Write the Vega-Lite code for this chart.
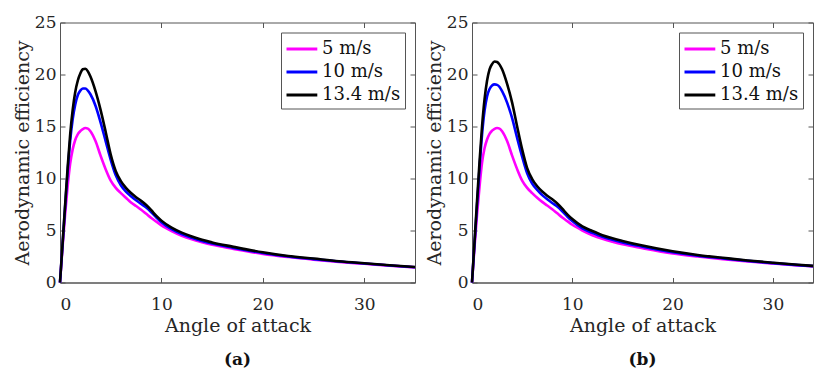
{
  "$schema": "https://vega.github.io/schema/vega-lite/v6.json",
  "padding": {"top": 12.5, "left": 12, "right": 0, "bottom": 0},
  "spacing": 3,
  "background": "white",
  "config": {
    "view": {"stroke": "#555", "strokeWidth": 1},
    "style": {
      "guide-label": {"font": "DejaVu Serif"},
      "guide-title": {"font": "DejaVu Serif"}
    },
    "axis": {
      "grid": false,
      "labelFontSize": 17,
      "labelColor": "#262626",
      "titleFontSize": 19,
      "titleFontWeight": "normal",
      "titleColor": "#262626",
      "domainColor": "#555",
      "tickColor": "#555",
      "tickSize": -5,
      "labelPadding": 9,
      "minExtent": 0
    },
    "legend": {
      "orient": "top-right",
      "offset": 10,
      "padding": 4,
      "strokeColor": "#555",
      "fillColor": "white",
      "labelFont": "DejaVu Serif",
      "labelFontSize": 18,
      "labelColor": "#111",
      "symbolType": "M-1,0H1.8",
      "symbolStrokeWidth": 3,
      "symbolSize": 484,
      "rowPadding": 1,
      "labelOffset": 12,
      "title": null
    }
  },
  "datasets": {
    "curves": [
      {"panel":"a","speed":"5 m/s","aoa":0,"eff":0},{"panel":"a","speed":"5 m/s","aoa":0.25,"eff":3.4},{"panel":"a","speed":"5 m/s","aoa":0.5,"eff":6.5},{"panel":"a","speed":"5 m/s","aoa":0.75,"eff":9.2},{"panel":"a","speed":"5 m/s","aoa":1,"eff":11.4},{"panel":"a","speed":"5 m/s","aoa":1.25,"eff":12.8},{"panel":"a","speed":"5 m/s","aoa":1.5,"eff":13.7},{"panel":"a","speed":"5 m/s","aoa":1.75,"eff":14.25},{"panel":"a","speed":"5 m/s","aoa":2,"eff":14.55},{"panel":"a","speed":"5 m/s","aoa":2.25,"eff":14.75},{"panel":"a","speed":"5 m/s","aoa":2.5,"eff":14.85},{"panel":"a","speed":"5 m/s","aoa":2.75,"eff":14.8},{"panel":"a","speed":"5 m/s","aoa":3,"eff":14.55},{"panel":"a","speed":"5 m/s","aoa":3.5,"eff":13.6},{"panel":"a","speed":"5 m/s","aoa":4,"eff":12.2},{"panel":"a","speed":"5 m/s","aoa":4.5,"eff":10.9},{"panel":"a","speed":"5 m/s","aoa":5,"eff":9.8},{"panel":"a","speed":"5 m/s","aoa":5.5,"eff":9.1},{"panel":"a","speed":"5 m/s","aoa":6,"eff":8.6},{"panel":"a","speed":"5 m/s","aoa":6.5,"eff":8.15},{"panel":"a","speed":"5 m/s","aoa":7,"eff":7.7},{"panel":"a","speed":"5 m/s","aoa":7.5,"eff":7.35},{"panel":"a","speed":"5 m/s","aoa":8,"eff":7.0},{"panel":"a","speed":"5 m/s","aoa":8.5,"eff":6.6},{"panel":"a","speed":"5 m/s","aoa":9,"eff":6.2},{"panel":"a","speed":"5 m/s","aoa":9.5,"eff":5.85},{"panel":"a","speed":"5 m/s","aoa":10,"eff":5.5},{"panel":"a","speed":"5 m/s","aoa":11,"eff":4.95},{"panel":"a","speed":"5 m/s","aoa":12,"eff":4.5},{"panel":"a","speed":"5 m/s","aoa":13,"eff":4.15},{"panel":"a","speed":"5 m/s","aoa":14,"eff":3.87},{"panel":"a","speed":"5 m/s","aoa":15,"eff":3.62},{"panel":"a","speed":"5 m/s","aoa":17,"eff":3.25},{"panel":"a","speed":"5 m/s","aoa":20,"eff":2.75},{"panel":"a","speed":"5 m/s","aoa":22.5,"eff":2.45},{"panel":"a","speed":"5 m/s","aoa":25,"eff":2.2},{"panel":"a","speed":"5 m/s","aoa":27.5,"eff":1.98},{"panel":"a","speed":"5 m/s","aoa":30,"eff":1.8},{"panel":"a","speed":"5 m/s","aoa":32.5,"eff":1.62},{"panel":"a","speed":"5 m/s","aoa":35,"eff":1.45},
      {"panel":"a","speed":"10 m/s","aoa":0,"eff":0},{"panel":"a","speed":"10 m/s","aoa":0.25,"eff":3.6},{"panel":"a","speed":"10 m/s","aoa":0.5,"eff":7.2},{"panel":"a","speed":"10 m/s","aoa":0.75,"eff":10.6},{"panel":"a","speed":"10 m/s","aoa":1,"eff":13.6},{"panel":"a","speed":"10 m/s","aoa":1.25,"eff":15.7},{"panel":"a","speed":"10 m/s","aoa":1.5,"eff":17.1},{"panel":"a","speed":"10 m/s","aoa":1.75,"eff":18.0},{"panel":"a","speed":"10 m/s","aoa":2,"eff":18.45},{"panel":"a","speed":"10 m/s","aoa":2.25,"eff":18.65},{"panel":"a","speed":"10 m/s","aoa":2.5,"eff":18.65},{"panel":"a","speed":"10 m/s","aoa":2.75,"eff":18.45},{"panel":"a","speed":"10 m/s","aoa":3,"eff":18.1},{"panel":"a","speed":"10 m/s","aoa":3.5,"eff":17.0},{"panel":"a","speed":"10 m/s","aoa":4,"eff":15.4},{"panel":"a","speed":"10 m/s","aoa":4.5,"eff":13.6},{"panel":"a","speed":"10 m/s","aoa":5,"eff":11.8},{"panel":"a","speed":"10 m/s","aoa":5.5,"eff":10.3},{"panel":"a","speed":"10 m/s","aoa":6,"eff":9.35},{"panel":"a","speed":"10 m/s","aoa":6.5,"eff":8.75},{"panel":"a","speed":"10 m/s","aoa":7,"eff":8.3},{"panel":"a","speed":"10 m/s","aoa":7.5,"eff":7.9},{"panel":"a","speed":"10 m/s","aoa":8,"eff":7.55},{"panel":"a","speed":"10 m/s","aoa":8.5,"eff":7.2},{"panel":"a","speed":"10 m/s","aoa":9,"eff":6.75},{"panel":"a","speed":"10 m/s","aoa":9.5,"eff":6.25},{"panel":"a","speed":"10 m/s","aoa":10,"eff":5.8},{"panel":"a","speed":"10 m/s","aoa":11,"eff":5.12},{"panel":"a","speed":"10 m/s","aoa":12,"eff":4.65},{"panel":"a","speed":"10 m/s","aoa":13,"eff":4.3},{"panel":"a","speed":"10 m/s","aoa":14,"eff":4.0},{"panel":"a","speed":"10 m/s","aoa":15,"eff":3.75},{"panel":"a","speed":"10 m/s","aoa":17,"eff":3.35},{"panel":"a","speed":"10 m/s","aoa":20,"eff":2.84},{"panel":"a","speed":"10 m/s","aoa":22.5,"eff":2.5},{"panel":"a","speed":"10 m/s","aoa":25,"eff":2.25},{"panel":"a","speed":"10 m/s","aoa":27.5,"eff":2.02},{"panel":"a","speed":"10 m/s","aoa":30,"eff":1.82},{"panel":"a","speed":"10 m/s","aoa":32.5,"eff":1.64},{"panel":"a","speed":"10 m/s","aoa":35,"eff":1.47},
      {"panel":"a","speed":"13.4 m/s","aoa":0,"eff":0},{"panel":"a","speed":"13.4 m/s","aoa":0.25,"eff":3.7},{"panel":"a","speed":"13.4 m/s","aoa":0.5,"eff":7.4},{"panel":"a","speed":"13.4 m/s","aoa":0.75,"eff":11.0},{"panel":"a","speed":"13.4 m/s","aoa":1,"eff":14.2},{"panel":"a","speed":"13.4 m/s","aoa":1.25,"eff":16.6},{"panel":"a","speed":"13.4 m/s","aoa":1.5,"eff":18.3},{"panel":"a","speed":"13.4 m/s","aoa":1.75,"eff":19.4},{"panel":"a","speed":"13.4 m/s","aoa":2,"eff":20.1},{"panel":"a","speed":"13.4 m/s","aoa":2.25,"eff":20.5},{"panel":"a","speed":"13.4 m/s","aoa":2.5,"eff":20.55},{"panel":"a","speed":"13.4 m/s","aoa":2.75,"eff":20.3},{"panel":"a","speed":"13.4 m/s","aoa":3,"eff":19.8},{"panel":"a","speed":"13.4 m/s","aoa":3.5,"eff":18.4},{"panel":"a","speed":"13.4 m/s","aoa":4,"eff":16.6},{"panel":"a","speed":"13.4 m/s","aoa":4.5,"eff":14.5},{"panel":"a","speed":"13.4 m/s","aoa":5,"eff":12.3},{"panel":"a","speed":"13.4 m/s","aoa":5.5,"eff":10.7},{"panel":"a","speed":"13.4 m/s","aoa":6,"eff":9.75},{"panel":"a","speed":"13.4 m/s","aoa":6.5,"eff":9.1},{"panel":"a","speed":"13.4 m/s","aoa":7,"eff":8.6},{"panel":"a","speed":"13.4 m/s","aoa":7.5,"eff":8.2},{"panel":"a","speed":"13.4 m/s","aoa":8,"eff":7.85},{"panel":"a","speed":"13.4 m/s","aoa":8.5,"eff":7.45},{"panel":"a","speed":"13.4 m/s","aoa":9,"eff":6.95},{"panel":"a","speed":"13.4 m/s","aoa":9.5,"eff":6.4},{"panel":"a","speed":"13.4 m/s","aoa":10,"eff":5.95},{"panel":"a","speed":"13.4 m/s","aoa":11,"eff":5.28},{"panel":"a","speed":"13.4 m/s","aoa":12,"eff":4.8},{"panel":"a","speed":"13.4 m/s","aoa":13,"eff":4.42},{"panel":"a","speed":"13.4 m/s","aoa":14,"eff":4.1},{"panel":"a","speed":"13.4 m/s","aoa":15,"eff":3.85},{"panel":"a","speed":"13.4 m/s","aoa":17,"eff":3.45},{"panel":"a","speed":"13.4 m/s","aoa":20,"eff":2.9},{"panel":"a","speed":"13.4 m/s","aoa":22.5,"eff":2.55},{"panel":"a","speed":"13.4 m/s","aoa":25,"eff":2.3},{"panel":"a","speed":"13.4 m/s","aoa":27.5,"eff":2.05},{"panel":"a","speed":"13.4 m/s","aoa":30,"eff":1.85},{"panel":"a","speed":"13.4 m/s","aoa":32.5,"eff":1.66},{"panel":"a","speed":"13.4 m/s","aoa":35,"eff":1.49},
      {"panel":"b","speed":"5 m/s","aoa":0,"eff":0},{"panel":"b","speed":"5 m/s","aoa":0.25,"eff":3.4},{"panel":"b","speed":"5 m/s","aoa":0.5,"eff":6.5},{"panel":"b","speed":"5 m/s","aoa":0.75,"eff":9.2},{"panel":"b","speed":"5 m/s","aoa":1,"eff":11.5},{"panel":"b","speed":"5 m/s","aoa":1.25,"eff":12.9},{"panel":"b","speed":"5 m/s","aoa":1.5,"eff":13.75},{"panel":"b","speed":"5 m/s","aoa":1.75,"eff":14.3},{"panel":"b","speed":"5 m/s","aoa":2,"eff":14.6},{"panel":"b","speed":"5 m/s","aoa":2.25,"eff":14.78},{"panel":"b","speed":"5 m/s","aoa":2.5,"eff":14.85},{"panel":"b","speed":"5 m/s","aoa":2.75,"eff":14.8},{"panel":"b","speed":"5 m/s","aoa":3,"eff":14.55},{"panel":"b","speed":"5 m/s","aoa":3.5,"eff":13.6},{"panel":"b","speed":"5 m/s","aoa":4,"eff":12.2},{"panel":"b","speed":"5 m/s","aoa":4.5,"eff":10.9},{"panel":"b","speed":"5 m/s","aoa":5,"eff":9.8},{"panel":"b","speed":"5 m/s","aoa":5.5,"eff":9.1},{"panel":"b","speed":"5 m/s","aoa":6,"eff":8.6},{"panel":"b","speed":"5 m/s","aoa":6.5,"eff":8.15},{"panel":"b","speed":"5 m/s","aoa":7,"eff":7.75},{"panel":"b","speed":"5 m/s","aoa":7.5,"eff":7.4},{"panel":"b","speed":"5 m/s","aoa":8,"eff":7.05},{"panel":"b","speed":"5 m/s","aoa":8.5,"eff":6.65},{"panel":"b","speed":"5 m/s","aoa":9,"eff":6.25},{"panel":"b","speed":"5 m/s","aoa":9.5,"eff":5.9},{"panel":"b","speed":"5 m/s","aoa":10,"eff":5.55},{"panel":"b","speed":"5 m/s","aoa":11,"eff":5.0},{"panel":"b","speed":"5 m/s","aoa":12,"eff":4.55},{"panel":"b","speed":"5 m/s","aoa":13,"eff":4.2},{"panel":"b","speed":"5 m/s","aoa":14,"eff":3.92},{"panel":"b","speed":"5 m/s","aoa":15,"eff":3.67},{"panel":"b","speed":"5 m/s","aoa":17,"eff":3.3},{"panel":"b","speed":"5 m/s","aoa":20,"eff":2.8},{"panel":"b","speed":"5 m/s","aoa":22.5,"eff":2.5},{"panel":"b","speed":"5 m/s","aoa":25,"eff":2.24},{"panel":"b","speed":"5 m/s","aoa":27.5,"eff":2.02},{"panel":"b","speed":"5 m/s","aoa":30,"eff":1.83},{"panel":"b","speed":"5 m/s","aoa":32.5,"eff":1.65},{"panel":"b","speed":"5 m/s","aoa":34,"eff":1.55},
      {"panel":"b","speed":"10 m/s","aoa":0,"eff":0},{"panel":"b","speed":"10 m/s","aoa":0.25,"eff":3.7},{"panel":"b","speed":"10 m/s","aoa":0.5,"eff":7.4},{"panel":"b","speed":"10 m/s","aoa":0.75,"eff":11.0},{"panel":"b","speed":"10 m/s","aoa":1,"eff":14.2},{"panel":"b","speed":"10 m/s","aoa":1.25,"eff":16.5},{"panel":"b","speed":"10 m/s","aoa":1.5,"eff":17.9},{"panel":"b","speed":"10 m/s","aoa":1.75,"eff":18.6},{"panel":"b","speed":"10 m/s","aoa":2,"eff":18.95},{"panel":"b","speed":"10 m/s","aoa":2.25,"eff":19.05},{"panel":"b","speed":"10 m/s","aoa":2.5,"eff":19.0},{"panel":"b","speed":"10 m/s","aoa":2.75,"eff":18.8},{"panel":"b","speed":"10 m/s","aoa":3,"eff":18.4},{"panel":"b","speed":"10 m/s","aoa":3.5,"eff":17.3},{"panel":"b","speed":"10 m/s","aoa":4,"eff":15.8},{"panel":"b","speed":"10 m/s","aoa":4.5,"eff":13.9},{"panel":"b","speed":"10 m/s","aoa":5,"eff":12.1},{"panel":"b","speed":"10 m/s","aoa":5.5,"eff":10.5},{"panel":"b","speed":"10 m/s","aoa":6,"eff":9.5},{"panel":"b","speed":"10 m/s","aoa":6.5,"eff":8.9},{"panel":"b","speed":"10 m/s","aoa":7,"eff":8.4},{"panel":"b","speed":"10 m/s","aoa":7.5,"eff":8.0},{"panel":"b","speed":"10 m/s","aoa":8,"eff":7.65},{"panel":"b","speed":"10 m/s","aoa":8.5,"eff":7.3},{"panel":"b","speed":"10 m/s","aoa":9,"eff":6.85},{"panel":"b","speed":"10 m/s","aoa":9.5,"eff":6.35},{"panel":"b","speed":"10 m/s","aoa":10,"eff":5.9},{"panel":"b","speed":"10 m/s","aoa":11,"eff":5.2},{"panel":"b","speed":"10 m/s","aoa":12,"eff":4.78},{"panel":"b","speed":"10 m/s","aoa":13,"eff":4.4},{"panel":"b","speed":"10 m/s","aoa":14,"eff":4.1},{"panel":"b","speed":"10 m/s","aoa":15,"eff":3.85},{"panel":"b","speed":"10 m/s","aoa":17,"eff":3.45},{"panel":"b","speed":"10 m/s","aoa":20,"eff":2.92},{"panel":"b","speed":"10 m/s","aoa":22.5,"eff":2.58},{"panel":"b","speed":"10 m/s","aoa":25,"eff":2.32},{"panel":"b","speed":"10 m/s","aoa":27.5,"eff":2.08},{"panel":"b","speed":"10 m/s","aoa":30,"eff":1.86},{"panel":"b","speed":"10 m/s","aoa":32.5,"eff":1.67},{"panel":"b","speed":"10 m/s","aoa":34,"eff":1.57},
      {"panel":"b","speed":"13.4 m/s","aoa":0,"eff":0},{"panel":"b","speed":"13.4 m/s","aoa":0.25,"eff":3.9},{"panel":"b","speed":"13.4 m/s","aoa":0.5,"eff":7.8},{"panel":"b","speed":"13.4 m/s","aoa":0.75,"eff":11.6},{"panel":"b","speed":"13.4 m/s","aoa":1,"eff":15.0},{"panel":"b","speed":"13.4 m/s","aoa":1.25,"eff":17.6},{"panel":"b","speed":"13.4 m/s","aoa":1.5,"eff":19.4},{"panel":"b","speed":"13.4 m/s","aoa":1.75,"eff":20.5},{"panel":"b","speed":"13.4 m/s","aoa":2,"eff":21.0},{"panel":"b","speed":"13.4 m/s","aoa":2.25,"eff":21.25},{"panel":"b","speed":"13.4 m/s","aoa":2.5,"eff":21.2},{"panel":"b","speed":"13.4 m/s","aoa":2.75,"eff":20.95},{"panel":"b","speed":"13.4 m/s","aoa":3,"eff":20.5},{"panel":"b","speed":"13.4 m/s","aoa":3.5,"eff":19.1},{"panel":"b","speed":"13.4 m/s","aoa":4,"eff":17.3},{"panel":"b","speed":"13.4 m/s","aoa":4.5,"eff":15.0},{"panel":"b","speed":"13.4 m/s","aoa":5,"eff":12.8},{"panel":"b","speed":"13.4 m/s","aoa":5.5,"eff":11.0},{"panel":"b","speed":"13.4 m/s","aoa":6,"eff":9.95},{"panel":"b","speed":"13.4 m/s","aoa":6.5,"eff":9.25},{"panel":"b","speed":"13.4 m/s","aoa":7,"eff":8.75},{"panel":"b","speed":"13.4 m/s","aoa":7.5,"eff":8.35},{"panel":"b","speed":"13.4 m/s","aoa":8,"eff":8.0},{"panel":"b","speed":"13.4 m/s","aoa":8.5,"eff":7.6},{"panel":"b","speed":"13.4 m/s","aoa":9,"eff":7.1},{"panel":"b","speed":"13.4 m/s","aoa":9.5,"eff":6.55},{"panel":"b","speed":"13.4 m/s","aoa":10,"eff":6.1},{"panel":"b","speed":"13.4 m/s","aoa":11,"eff":5.4},{"panel":"b","speed":"13.4 m/s","aoa":12,"eff":4.95},{"panel":"b","speed":"13.4 m/s","aoa":13,"eff":4.55},{"panel":"b","speed":"13.4 m/s","aoa":14,"eff":4.25},{"panel":"b","speed":"13.4 m/s","aoa":15,"eff":4.0},{"panel":"b","speed":"13.4 m/s","aoa":17,"eff":3.55},{"panel":"b","speed":"13.4 m/s","aoa":20,"eff":3.0},{"panel":"b","speed":"13.4 m/s","aoa":22.5,"eff":2.65},{"panel":"b","speed":"13.4 m/s","aoa":25,"eff":2.38},{"panel":"b","speed":"13.4 m/s","aoa":27.5,"eff":2.12},{"panel":"b","speed":"13.4 m/s","aoa":30,"eff":1.9},{"panel":"b","speed":"13.4 m/s","aoa":32.5,"eff":1.7},{"panel":"b","speed":"13.4 m/s","aoa":34,"eff":1.6}
    ]
  },
  "resolve": {"scale": {"color": "independent"}},
  "hconcat": [
    {
      "width": 355,
      "height": 260,
      "title": {"text": "(a)", "orient": "bottom", "font": "DejaVu Serif", "fontSize": 17, "fontWeight": "bold", "color": "#111", "offset": 16},
      "data": {"name": "curves"},
      "transform": [{"filter": "datum.panel === 'a'"}],
      "resolve": {"axis": {"x": "independent", "y": "independent"}},
      "layer": [
        {
          "mark": {"type": "line", "strokeWidth": 2.6, "interpolate": "monotone"},
          "encoding": {
            "x": {"field": "aoa", "type": "quantitative", "scale": {"domain": [0, 35], "nice": false}, "axis": {"values": [0, 10, 20, 30], "title": "Angle of attack", "titlePadding": 4, "labelPadding": 19}},
            "y": {"field": "eff", "type": "quantitative", "scale": {"domain": [0, 25], "nice": false}, "axis": {"values": [0, 5, 10, 15, 20, 25], "title": "Aerodynamic efficiency", "titlePadding": 2}},
            "color": {"field": "speed", "type": "nominal", "sort": ["5 m/s", "10 m/s", "13.4 m/s"], "scale": {"domain": ["5 m/s", "10 m/s", "13.4 m/s"], "range": ["#ff00ff", "#0000ff", "#000000"]}, "legend": {"labelFont": "DejaVu Serif"}}
          }
        },
        {
          "mark": {"type": "line", "opacity": 0},
          "encoding": {
            "x": {"field": "aoa", "type": "quantitative", "axis": {"orient": "top", "values": [0, 10, 20, 30], "labels": false, "title": null, "domain": false}},
            "y": {"field": "eff", "type": "quantitative", "axis": {"orient": "right", "values": [0, 5, 10, 15, 20, 25], "labels": false, "title": null, "domain": false}},
            "detail": {"field": "speed"}
          }
        }
      ]
    },
    {
      "width": 341,
      "height": 260,
      "title": {"text": "(b)", "orient": "bottom", "font": "DejaVu Serif", "fontSize": 17, "fontWeight": "bold", "color": "#111", "offset": 16},
      "data": {"name": "curves"},
      "transform": [{"filter": "datum.panel === 'b'"}],
      "resolve": {"axis": {"x": "independent", "y": "independent"}},
      "layer": [
        {
          "mark": {"type": "line", "strokeWidth": 2.6, "interpolate": "monotone"},
          "encoding": {
            "x": {"field": "aoa", "type": "quantitative", "scale": {"domain": [0, 34], "nice": false}, "axis": {"values": [0, 10, 20, 30], "title": "Angle of attack", "titlePadding": 4, "labelPadding": 19}},
            "y": {"field": "eff", "type": "quantitative", "scale": {"domain": [0, 25], "nice": false}, "axis": {"values": [0, 5, 10, 15, 20, 25], "title": "Aerodynamic efficiency", "titlePadding": 2}},
            "color": {"field": "speed", "type": "nominal", "sort": ["5 m/s", "10 m/s", "13.4 m/s"], "scale": {"domain": ["5 m/s", "10 m/s", "13.4 m/s"], "range": ["#ff00ff", "#0000ff", "#000000"]}, "legend": {"labelFont": "DejaVu Serif"}}
          }
        },
        {
          "mark": {"type": "line", "opacity": 0},
          "encoding": {
            "x": {"field": "aoa", "type": "quantitative", "axis": {"orient": "top", "values": [0, 10, 20, 30], "labels": false, "title": null, "domain": false}},
            "y": {"field": "eff", "type": "quantitative", "axis": {"orient": "right", "values": [0, 5, 10, 15, 20, 25], "labels": false, "title": null, "domain": false}},
            "detail": {"field": "speed"}
          }
        }
      ]
    }
  ]
}
